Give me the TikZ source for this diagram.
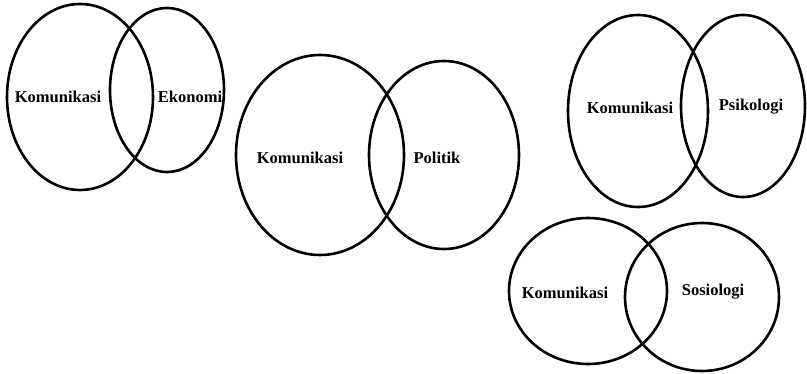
\documentclass[tikz,border=0pt]{standalone}
\usepackage{fontspec}
\setmainfont{Liberation Serif}
\usetikzlibrary{shapes.geometric}
\begin{document}
\begin{tikzpicture}[x=1pt,y=-1pt,
  venn/.style={ellipse, draw, line width=2.6pt, inner sep=0pt},
  lbl/.style={font=\bfseries\fontsize{16.5}{19}\selectfont, inner sep=0pt}]
\useasboundingbox[fill=white] (0,0) rectangle (807,374);
% group 1
\node[venn, minimum width=146pt, minimum height=186pt] (e1a) at (80,97) {};
\node[venn, minimum width=114pt, minimum height=164pt] (e1b) at (167,90) {};
\node[lbl] (t1a) at (58,97) {Komunikasi};
\node[lbl] (t1b) at (190,97) {Ekonomi};
% group 2
\node[venn, minimum width=168pt, minimum height=200pt] (e2a) at (320,155) {};
\node[venn, minimum width=150pt, minimum height=188pt] (e2b) at (444,155) {};
\node[lbl] (t2a) at (300,158) {Komunikasi};
\node[lbl] (t2b) at (437,158) {Politik};
% group 3
\node[venn, minimum width=140pt, minimum height=192pt] (e3a) at (638,111) {};
\node[venn, minimum width=124pt, minimum height=182pt] (e3b) at (743,106) {};
\node[lbl] (t3a) at (630,108) {Komunikasi};
\node[lbl] (t3b) at (751,107) {Psikologi};
% group 4
\node[venn, minimum width=158pt, minimum height=146pt] (e4a) at (588,291) {};
\node[venn, minimum width=154pt, minimum height=148pt] (e4b) at (702,297) {};
\node[lbl] (t4a) at (565,293) {Komunikasi};
\node[lbl] (t4b) at (713,292) {Sosiologi};
\end{tikzpicture}
\end{document}
